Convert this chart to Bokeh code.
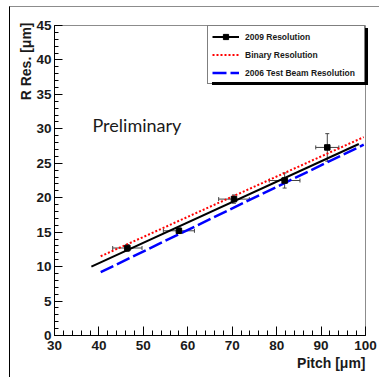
from bokeh.plotting import figure
from bokeh.models import (ColumnDataSource, Whisker, TeeHead, Label, Title, InlineStyleSheet,
                          Legend, LegendItem, SingleIntervalTicker, Range1d)
from bokeh.embed import file_html
from bokeh.resources import INLINE

# ---- data ----
pitch = [46.4, 58.0, 70.4, 81.8, 91.4]
res = [12.7, 15.2, 19.8, 22.5, 27.3]
pitch_err = [3.3, 3.5, 3.45, 3.45, 2.6]
res_err = [0.5, 0.4, 0.6, 1.1, 2.0]

fit_x = [38.3, 98.5]
fit_y = [10.0, 27.8]
binary_x = [40.4, 99.6]
binary_y = [11.5, 28.8]
beam_x = [40.4, 99.6]
beam_y = [9.2, 27.7]

x_ticks_interval = 10
y_ticks_interval = 5

src = ColumnDataSource(dict(
    x=pitch, y=res,
    xl=[a - b for a, b in zip(pitch, pitch_err)],
    xu=[a + b for a, b in zip(pitch, pitch_err)],
    yl=[a - b for a, b in zip(res, res_err)],
    yu=[a + b for a, b in zip(res, res_err)],
))

p = figure(width=379, height=377, x_range=Range1d(30, 100), y_range=Range1d(0, 45),
           output_backend="svg", toolbar_location=None,
           min_border_left=54, min_border_right=14, min_border_top=25, min_border_bottom=42)
p.xgrid.visible = False
p.ygrid.visible = False
p.outline_line_color = "#8c8c8c"
p.background_fill_color = "white"
p.border_fill_color = "white"

for ax, interval, tin, mtin in ((p.xaxis[0], x_ticks_interval, 9, 5), (p.yaxis[0], y_ticks_interval, 8, 4)):
    ax.ticker = SingleIntervalTicker(interval=interval, num_minor_ticks=5)
    ax.axis_line_color = "black"
    ax.major_tick_in = tin
    ax.major_tick_out = 0
    ax.minor_tick_in = mtin
    ax.minor_tick_out = 0
    ax.major_tick_line_color = "black"
    ax.minor_tick_line_color = "black"
    ax.major_label_text_font = "Liberation Sans"
    ax.major_label_text_font_style = "bold"
    ax.major_label_text_font_size = "13.5px"
    ax.major_label_text_color = "#1a1a1a"
p.yaxis[0].major_label_standoff = 3
p.xaxis[0].major_label_standoff = 5

# axis titles
p.add_layout(Title(text="R Res. [μm]", align="right", vertical_align="bottom",
                   text_font="Liberation Sans",
                   text_font_style="bold", text_font_size="14px", text_color="#1a1a1a",
                   standoff=0, offset=-3), "left")
p.add_layout(Title(text="Pitch [μm]", align="right", text_font="Liberation Sans",
                   text_font_style="bold", text_font_size="14px", text_color="#1a1a1a",
                   standoff=0, offset=0), "below")

# lines
beam = p.line(beam_x, beam_y, line_color="#0000ff", line_width=2.5, line_dash="14 4")
binary = p.line(binary_x, binary_y, line_color="#ff0000", line_width=2, line_dash="2 2")
fit = p.line(fit_x, fit_y, line_color="black", line_width=2)

# error bars
for base, lo, hi, dim in (("y", "xl", "xu", "width"), ("x", "yl", "yu", "height")):
    p.add_layout(Whisker(source=src, base=base, lower=lo, upper=hi, dimension=dim,
                         line_color="#444444", line_width=1,
                         lower_head=TeeHead(size=4, line_color="#444444", line_width=1),
                         upper_head=TeeHead(size=4, line_color="#444444", line_width=1)))
pts = p.scatter("x", "y", source=src, marker="square", size=5.5, color="black")

legend = Legend(items=[
    LegendItem(label="2009 Resolution", renderers=[fit, pts]),
    LegendItem(label="Binary Resolution", renderers=[binary]),
    LegendItem(label="2006 Test Beam Resolution", renderers=[beam]),
], location="top_right", margin=0, padding=4, spacing=5,
    glyph_width=27, glyph_height=13, label_height=13, label_width=115, label_standoff=6,
    label_text_font="Liberation Sans", label_text_font_style="bold",
    label_text_font_size="8.5px", label_text_color="#1a1a1a",
    border_line_color="black", border_line_width=1, background_fill_alpha=1)
p.add_layout(legend)

# text inside the frame
p.add_layout(Label(x=38.55, y=30.6, text="Preliminary", text_font="Lato",
                   text_font_size="18px", text_color="#1a1a1a", text_baseline="alphabetic"))

# slide frame lines (left/top) and legend drop shadow, drawn as page decoration
p.stylesheets = [InlineStyleSheet(css="""
:host::after { content: ""; position: absolute; left: 9px; top: 6px; width: 370px; height: 371px;
  box-sizing: border-box; border-left: 1px solid #000; border-top: 1px solid #8c8c8c;
  pointer-events: none; z-index: 10; }
:host::before { content: ""; position: absolute; left: 209px; top: 25px; width: 156px; height: 57px;
  box-shadow: 3px 3px 0 #000; pointer-events: none; z-index: 10; }
""")]

open("out.html", "w").write(file_html(p, INLINE))
